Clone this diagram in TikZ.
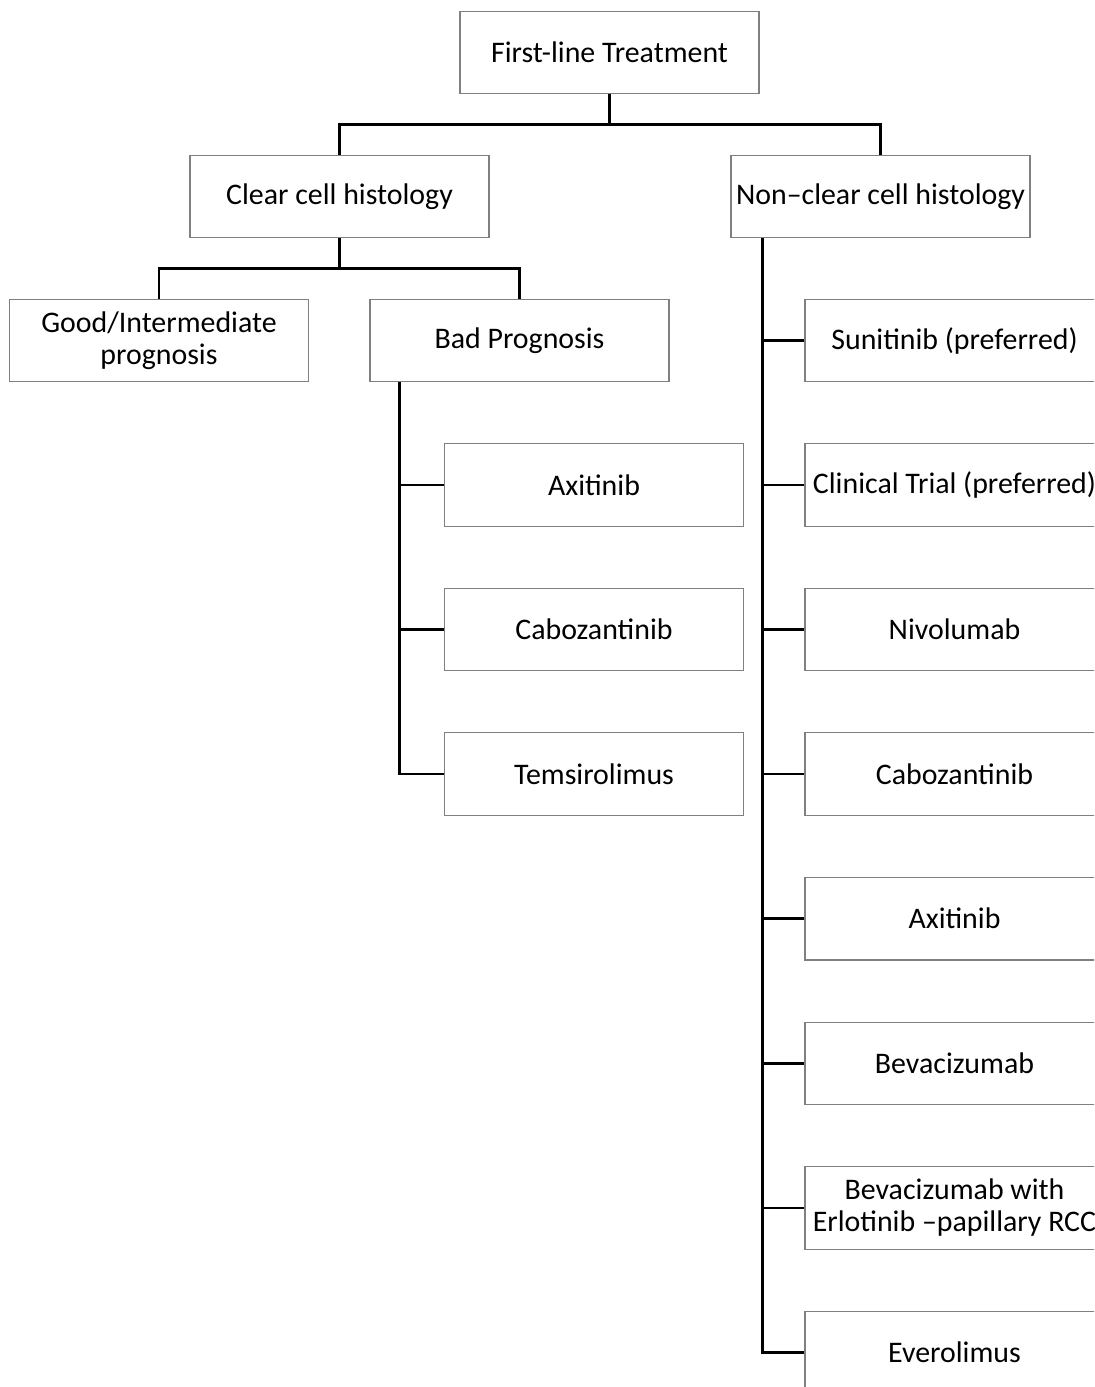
\documentclass[tikz,border=0pt]{standalone}
\usepackage{fontspec}
\setmainfont{Carlito}
\usetikzlibrary{positioning}

\begin{document}
\begin{tikzpicture}[
    box/.style={rectangle, draw=black!50, line width=0.6pt, fill=white,
                minimum width=5.98cm, minimum height=1.65cm, align=center,
                inner sep=2pt, font=\fontsize{17}{18}\selectfont},
    link/.style={line width=1.4pt, black}
  ]
    \path[use as bounding box, clip] (0,0) rectangle (21.88,-27.74);

    \node[box] (root) at (12.19,-1.05) {First-line Treatment};
    \node[box] (clear) at (6.79,-3.93) {Clear cell histology};
    \node[box] (nonclear) at (17.61,-3.93) {Non--clear cell histology};
    \node[box] (good) at (3.18,-6.81) {Good/Intermediate\\prognosis};
    \node[box] (bad) at (10.39,-6.81) {Bad Prognosis};

    % bad prognosis branch
    \node[box] (axi) at (11.88,-9.70) {Axitinib};
    \node[box, below=1.22cm of axi] (cabo) {Cabozantinib};
    \node[box, below=1.22cm of cabo] (tem) {Temsirolimus};

    % non-clear cell branch
    \node[box] (suni) at (19.09,-6.81) {Sunitinib (preferred)};
    \node[box, below=1.22cm of suni] (trial) {Clinical Trial (preferred)};
    \node[box, below=1.22cm of trial] (nivo) {Nivolumab};
    \node[box, below=1.22cm of nivo] (cabotwo) {Cabozantinib};
    \node[box, below=1.22cm of cabotwo] (axitwo) {Axitinib};
    \node[box, below=1.22cm of axitwo] (beva) {Bevacizumab};
    \node[box, below=1.22cm of beva] (bevaerlo) {Bevacizumab with\\Erlotinib --papillary RCC};
    \node[box, below=1.22cm of bevaerlo] (evero) {Everolimus};

    \draw[link] (root.south) -- ++(0,-0.6) -| (clear.north);
    \draw[link] (root.south) -- ++(0,-0.6) -| (nonclear.north);
    \draw[link] (clear.south) -- ++(0,-0.6) -| (good.north);
    \draw[link] (clear.south) -- ++(0,-0.6) -| (bad.north);

    \foreach \n in {axi, cabo, tem}
      \draw[link] ([xshift=0.6cm]bad.south west) |- (\n.west);
    \foreach \n in {suni, trial, nivo, cabotwo, axitwo, beva, bevaerlo, evero}
      \draw[link] ([xshift=0.64cm]nonclear.south west) |- (\n.west);
\end{tikzpicture}
\end{document}
